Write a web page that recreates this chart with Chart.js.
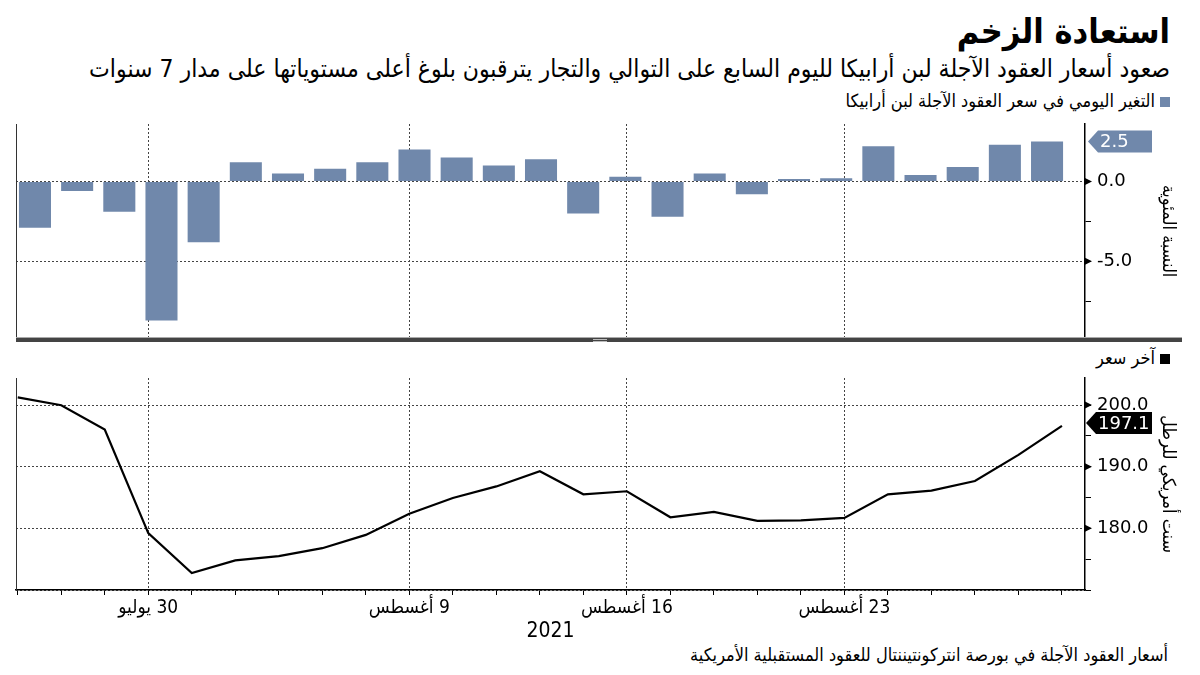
<!DOCTYPE html>
<html lang="ar">
<head>
<meta charset="utf-8">
<script src="https://cdn.jsdelivr.net/npm/chart.js@4.4.1/dist/chart.umd.min.js"></script>
<style>
body{margin:0;width:1200px;height:675px;background:#fff;position:relative;overflow:hidden;
  font-family:"DejaVu Sans Condensed","DejaVu Sans",sans-serif;color:#000}
.txt{position:absolute;right:30px;direction:rtl;white-space:nowrap;line-height:1}
#title{top:14px;font-size:34px;font-weight:bold}
#sub{top:57px;font-size:24.5px}
#leg1{top:92px;font-size:18px}
#leg2{top:349px;font-size:18px}
#note{top:646px;font-size:18px;right:32px}
.sq{display:inline-block;width:10px;height:10px;margin-left:5px}
#sep{position:absolute;left:16px;top:337px;width:1166px;height:5px;background:#444;border-top:1px solid #aaa;box-sizing:border-box}
#grip{position:absolute;left:577px;top:1px;width:14px;height:3px;border-top:1px solid #bbb;border-bottom:1px solid #bbb;box-sizing:border-box}
canvas{position:absolute;left:0}
#top{top:110px}
#bottom{top:370px}
</style>
</head>
<body>
<div class="txt" id="title">استعادة الزخم</div>
<div class="txt" id="sub">صعود أسعار العقود الآجلة لبن أرابيكا لليوم السابع على التوالي والتجار يترقبون بلوغ أعلى مستوياتها على مدار 7 سنوات</div>
<div class="txt" id="leg1"><span class="sq" style="background:#7088ab"></span>التغير اليومي في سعر العقود الآجلة لبن أرابيكا</div>
<div class="txt" id="leg2"><span class="sq" style="background:#000"></span>آخر سعر</div>
<div class="txt" id="note">أسعار العقود الآجلة في بورصة انتركونتيننتال للعقود المستقبلية الأمريكية</div>
<canvas id="top" width="1200" height="236"></canvas>
<div id="sep"><div id="grip"></div></div>
<canvas id="bottom" width="1200" height="280"></canvas>
<script>
const days = ['27 يوليو','28 يوليو','29 يوليو','30 يوليو','2 أغسطس','3 أغسطس','4 أغسطس','5 أغسطس','6 أغسطس',
  '9 أغسطس','10 أغسطس','11 أغسطس','12 أغسطس','13 أغسطس','16 أغسطس','17 أغسطس','18 أغسطس','19 أغسطس','20 أغسطس',
  '23 أغسطس','24 أغسطس','25 أغسطس','26 أغسطس','27 أغسطس','30 أغسطس'];
const labelDays = ['30 يوليو','9 أغسطس','16 أغسطس','23 أغسطس'];
const year = '2021';

// daily change, percent
const changes = [-2.9,-0.6,-1.9,-8.7,-3.8,1.2,0.5,0.8,1.2,2.0,1.5,1.0,1.4,-2.0,0.3,-2.2,0.5,-0.8,0.15,0.2,2.2,0.4,0.9,2.3,2.5];
// last price, US cents per pound
const prices = [201.8,200.5,196.5,179.4,172.8,174.9,175.6,176.9,179.1,182.6,185.2,187.1,189.6,185.8,186.3,182.0,182.9,181.4,181.5,181.9,185.8,186.4,188.0,192.3,197.1];

const changeTicks = [-7.5,-5,-2.5,0];
const priceTicks = [170,175,180,185,190,195,200];

const barColor = '#7088ab';
const gridColor = '#444';
const numFont = {family:'"DejaVu Sans"', size:18};
const arFont = '"DejaVu Sans Condensed","DejaVu Sans"';
const labelIdx = labelDays.map(d => days.indexOf(d));

// value tag on the right axis + small arrow heads on the labelled ticks
const lastTag = {
  id:'lastTag',
  afterDraw(chart, args, opts){
    const ctx = chart.ctx;
    const ys = chart.scales.y;
    const x0 = chart.chartArea.right;
    ctx.save();
    ctx.fillStyle = '#000';
    ys.ticks.forEach(t => {
      if (t.label === '' ) return;
      const ty = ys.getPixelForValue(t.value);
      ctx.beginPath();
      ctx.moveTo(x0, ty-3.5); ctx.lineTo(x0+7, ty); ctx.lineTo(x0, ty+3.5);
      ctx.closePath(); ctx.fill();
    });
    const data = chart.data.datasets[0].data;
    const v = data[data.length-1].y;
    const y = ys.getPixelForValue(v);
    const x = x0 + opts.gap;
    ctx.fillStyle = opts.bg;
    ctx.beginPath();
    ctx.moveTo(x, y);
    ctx.lineTo(x+10, y-11);
    ctx.lineTo(1152, y-11);
    ctx.lineTo(1152, y+11);
    ctx.lineTo(x+10, y+11);
    ctx.closePath();
    ctx.fill();
    ctx.fillStyle = '#fff';
    ctx.font = '18px "DejaVu Sans"';
    ctx.textBaseline = 'middle';
    ctx.textAlign = 'left';
    ctx.fillText(v.toFixed(1), x+12, y+1);
    ctx.restore();
  }
};

function yAxis(min, max, tickVals, step, title){
  return {
    position:'right', min:min, max:max,
    afterBuildTicks: s => { s.ticks = tickVals.map(v => ({value:v})); },
    afterFit: s => { s.width = 97; s.paddingTop = 0; s.paddingBottom = 0; },
    border:{display:true, color:'#000', width:1.5, dash:[2,2]},
    grid:{
      color: c => (c.tick && c.tick.value % step === 0) ? gridColor : 'transparent',
      tickColor:'#000', tickLength:6, tickBorderDash:[], lineWidth:1
    },
    ticks:{
      font:numFont, color:'#000', padding:6,
      callback: v => (v % step === 0 && v >= min + 1) ? v.toFixed(1) : ''
    },
    title:{display:true, text:title, color:'#000', font:{family:arFont, size:18}, padding:{top:4,bottom:4}}
  };
}

const leftFrame = {
  position:'left',
  grid:{drawOnChartArea:false, drawTicks:false},
  ticks:{display:false},
  border:{display:true, color:'#333', width:1}
};

new Chart(document.getElementById('top'), {
  type:'bar',
  data:{datasets:[{
    data: changes.map((v,i) => ({x:i, y:v})),
    backgroundColor: barColor,
    borderWidth:0,
    xAxisID:'xb', yAxisID:'y',
    categoryPercentage:1, barPercentage:0.76
  }]},
  options:{
    responsive:false, animation:false,
    layout:{padding:{left:16, right:18, top:14, bottom:8}},
    plugins:{legend:{display:false}, tooltip:{enabled:false}, lastTag:{bg:barColor, gap:3}},
    scales:{
      x:{type:'linear', min:-0.04, max:24.53, offset:false,
        afterBuildTicks: s => { s.ticks = labelIdx.map(v => ({value:v})); },
        afterFit: s => { s.height = 0; s.paddingLeft = 0; s.paddingRight = 0; },
        grid:{color:gridColor, drawTicks:false, offset:false},
        border:{display:false, dash:[2,2]},
        ticks:{display:false}},
      xb:{type:'linear', min:-0.45, max:24.9, offset:false, grid:{offset:false}, display:false},
      yl:leftFrame,
      y:yAxis(-9.8, 3.6, changeTicks, 5, 'النسبة المئوية')
    }
  },
  plugins:[lastTag]
});

new Chart(document.getElementById('bottom'), {
  type:'line',
  data:{datasets:[{
    data: prices.map((v,i) => ({x:i, y:v})),
    borderColor:'#000', borderWidth:2.2, pointRadius:0, tension:0, fill:false
  }]},
  options:{
    responsive:false, animation:false,
    layout:{padding:{left:16, right:18, top:8, bottom:0}},
    plugins:{legend:{display:false}, tooltip:{enabled:false}, lastTag:{bg:'#000', gap:1}},
    scales:{
      x:{type:'linear', min:-0.04, max:24.53, offset:false,
        afterBuildTicks: s => { s.ticks = days.map((d,i) => ({value:i})); },
        afterFit: s => { s.height = 60; s.paddingLeft = 0; s.paddingRight = 0; },
        grid:{
          offset:false,
          color: c => (c.tick && labelIdx.includes(c.tick.value)) ? gridColor : 'transparent',
          tickColor:'#000', tickLength:5, tickBorderDash:[]
        },
        border:{display:true, color:'#000', width:1.5, dash:[2,2]},
        ticks:{autoSkip:false, maxRotation:0, padding:2, color:'#000',
          font:{family:arFont, size:19},
          callback: v => labelIdx.includes(v) ? '\u200F' + days[v] : ''},
        title:{display:true, text:year, color:'#000', font:{family:arFont, size:21}, padding:{top:0, bottom:6}}
      },
      yl:leftFrame,
      y:yAxis(170, 204.4, priceTicks, 10, 'سنت أمريكي للرطل')
    }
  },
  plugins:[lastTag]
});
</script>
</body>
</html>
